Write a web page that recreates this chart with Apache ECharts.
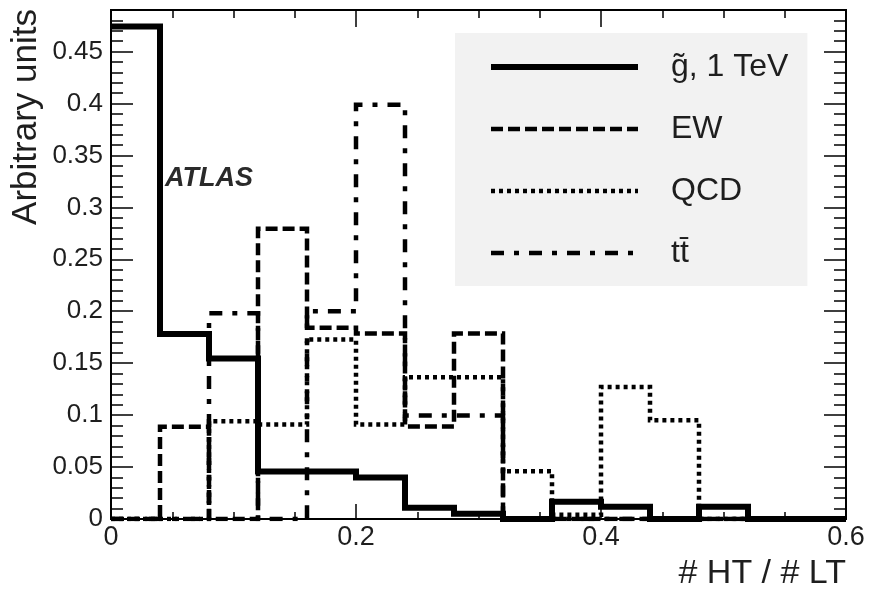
<!DOCTYPE html>
<html>
<head>
<meta charset="utf-8">
<script src="https://cdn.jsdelivr.net/npm/echarts@6/dist/echarts.min.js"></script>
<style>
  html, body { margin: 0; padding: 0; background: #fff; }
  #chart { width: 876px; height: 593px; }
</style>
</head>
<body>
<div id="chart"></div>
<script>
// Bin edges of the #HT/#LT histograms (bin width 0.04)
const binEdges = [0, 0.04, 0.08, 0.12, 0.16, 0.20, 0.24, 0.28, 0.32, 0.36, 0.40, 0.44, 0.48, 0.52, 0.56, 0.60];

// Normalised bin contents, one value per bin
const gluinoValues = [0.474, 0.178, 0.1545, 0.0457, 0.0457, 0.040, 0.0108, 0.005, 0, 0.0165, 0.0117, 0, 0.0117, 0, 0];
const ewValues     = [0, 0.0887, 0, 0.2793, 0.184, 0.1785, 0.089, 0.1785, 0, 0, 0, 0, 0, 0, 0];
const qcdValues    = [0, 0, 0.094, 0.091, 0.1728, 0.091, 0.1365, 0.1365, 0.046, 0.004, 0.127, 0.095, 0, 0, 0];
const ttbarValues  = [0, 0, 0.198, 0, 0.2, 0.3987, 0.0996, 0.0996, 0, 0, 0, 0, 0, 0, 0];

const seriesNames = ['g\u0303, 1 TeV', 'EW', 'QCD', 't' + 't\u0304'];

const xTicks = [0, 0.2, 0.4, 0.6];
const yTickStep = 0.05;

// Turn bin contents into a histogram outline (steps between bin edges)
function outline(values) {
  const pts = [[binEdges[0], values[0]]];
  for (let i = 0; i < values.length; i++) {
    pts.push([binEdges[i], values[i]]);
    pts.push([binEdges[i + 1], values[i]]);
  }
  pts.push([binEdges[binEdges.length - 1], 0]);
  return pts;
}

const FONT = '"Liberation Sans", Arial, sans-serif';
const TEXT = '#1e1e1e';

function histSeries(name, values, width, type, z) {
  return {
    name: name,
    type: 'line',
    data: outline(values),
    symbol: 'none',
    showSymbol: false,
    z: z,
    itemStyle: { color: '#000' },
    lineStyle: { color: '#000', width: width, type: type, cap: 'butt', join: 'miter' },
    emphasis: { disabled: true },
    silent: true
  };
}

const tickStyle = { color: '#000', width: 1.5 };

function xAxisDef(position, withLabels) {
  return {
    type: 'value', position: position,
    min: xTicks[0], max: xTicks[xTicks.length - 1], interval: 0.2,
    axisLine: { show: false, onZero: false },
    splitLine: { show: false },
    axisTick: { show: true, inside: true, length: position === 'top' ? 17 : 15, lineStyle: tickStyle },
    minorTick: { show: true, splitNumber: 4, length: position === 'top' ? 8 : 7, lineStyle: tickStyle },
    axisLabel: withLabels ? {
      margin: 5, fontSize: 27, fontFamily: FONT, color: TEXT,
      formatter: v => String(parseFloat(v.toFixed(2)))
    } : { show: false }
  };
}

function yAxisDef(position, withLabels) {
  return {
    type: 'value', position: position,
    min: 0, max: 0.49, interval: yTickStep,
    axisLine: { show: false, onZero: false },
    splitLine: { show: false },
    axisTick: { show: true, inside: true, length: 22, lineStyle: tickStyle },
    minorTick: { show: true, splitNumber: 5, length: 12, lineStyle: tickStyle },
    axisLabel: withLabels ? {
      margin: 8, fontSize: 26, fontFamily: FONT, color: TEXT,
      formatter: function (v) {
        const k = Math.round(v / yTickStep);
        if (Math.abs(k * yTickStep - v) > 1e-6) return '';
        return String(parseFloat(v.toFixed(2)));
      }
    } : { show: false }
  };
}

const chart = echarts.init(document.getElementById('chart'), null, { renderer: 'canvas' });

chart.setOption({
  animation: false,
  backgroundColor: '#fff',
  grid: {
    left: 111, right: 30, top: 10, bottom: 74,
    show: true, borderColor: '#000', borderWidth: 2, backgroundColor: 'transparent'
  },
  xAxis: [xAxisDef('bottom', true), xAxisDef('top', false)],
  yAxis: [yAxisDef('left', true), yAxisDef('right', false)],
  legend: {
    left: 455, top: 33,
    orient: 'vertical',
    selectedMode: false,
    backgroundColor: '#f2f2f2',
    padding: [18, 19, 17, 33],
    itemWidth: 147, itemHeight: 30, itemGap: 30,
    itemStyle: { opacity: 0 },
    lineStyle: { width: 'inherit', type: 'inherit', color: '#000', cap: 'butt' },
    textStyle: { fontSize: 32, fontFamily: FONT, color: TEXT, padding: [0, 0, 0, 28] },
    data: seriesNames
  },
  graphic: [
    {
      type: 'text', left: 165, top: 165, silent: true,
      style: {
        text: 'ATLAS', font: 'italic bold 27px ' + FONT, fill: '#2a2a2a',
        shadowBlur: 3, shadowColor: 'rgba(0,0,0,0.55)'
      }
    },
    {
      type: 'text', silent: true,
      x: 26, y: 9, rotation: Math.PI / 2,
      style: {
        text: 'Arbitrary units', font: '35px ' + FONT, fill: TEXT,
        align: 'right', verticalAlign: 'middle'
      }
    },
    {
      type: 'text', silent: true,
      x: 846, y: 574,
      style: {
        text: '# HT / # LT', font: '34px ' + FONT, fill: TEXT,
        align: 'right', verticalAlign: 'middle'
      }
    }
  ],
  series: [
    histSeries(seriesNames[1], ewValues, 4.5, [12, 5], 3),
    histSeries(seriesNames[2], qcdValues, 4.5, [4, 4], 3),
    histSeries(seriesNames[3], ttbarValues, 4.5, [13, 10, 5, 10], 3),
    histSeries(seriesNames[0], gluinoValues, 6, 'solid', 4)
  ]
});
</script>
</body>
</html>
